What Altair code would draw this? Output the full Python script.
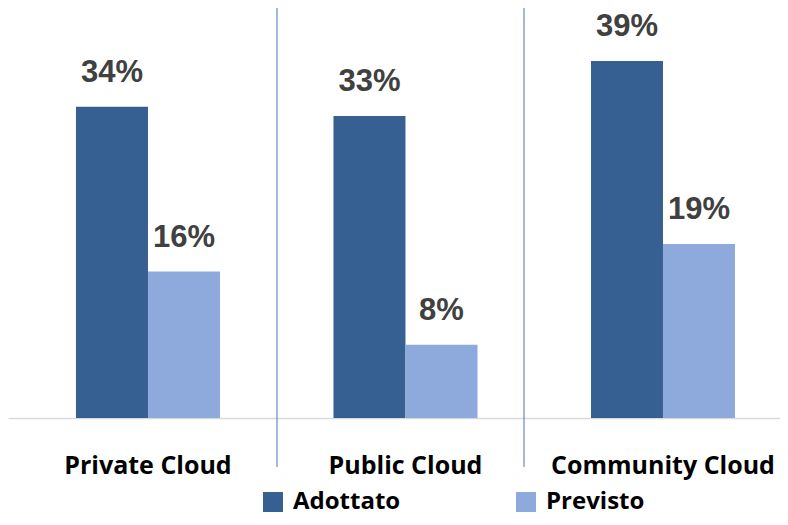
import altair as alt
import pandas as pd

categories = ["Private Cloud", "Public Cloud", "Community Cloud"]
series = ["Adottato", "Previsto"]
adottato = [34, 33, 39]
previsto = [16, 8, 19]
colors = ["#366092", "#8EA9DB"]

rows = []
for c, a, p in zip(categories, adottato, previsto):
    rows.append({"Categoria": c, "Serie": "Adottato", "Valore": a, "Etichetta": f"{a}%"})
    rows.append({"Categoria": c, "Serie": "Previsto", "Valore": p, "Etichetta": f"{p}%"})
df = pd.DataFrame(rows)

x_enc = alt.X(
    "Categoria:N",
    sort=categories,
    scale=alt.Scale(paddingInner=0.4, paddingOuter=0.199, align=0.612),
    axis=alt.Axis(
        title=None,
        labelAngle=0,
        labelFont="Open Sans",
        labelFontWeight="bold",
        labelFontSize=25,
        labelColor="#000000",
        labelBaseline="middle",
        labelPadding=47,
        labelLimit=0,
        ticks=False,
        tickSize=0,
        domainColor="#d9d9d9",
        domainWidth=1.5,
        grid=False,
    ),
)
xoff_enc = alt.XOffset(
    "Serie:N", sort=series, scale=alt.Scale(paddingInner=0, paddingOuter=0.0729)
)
y_enc = alt.Y(
    "Valore:Q", scale=alt.Scale(domain=[0, 44.8], nice=False, zero=True), axis=None
)

base = alt.Chart(df)

bars = base.mark_bar().encode(
    x=x_enc,
    xOffset=xoff_enc,
    y=y_enc,
    color=alt.Color(
        "Serie:N",
        sort=series,
        scale=alt.Scale(domain=series, range=colors),
        legend=alt.Legend(
            title=None,
            orient="none",
            legendX=253,
            legendY=482,
            direction="horizontal",
            columns=2,
            columnPadding=113,
            symbolType="square",
            symbolSize=400,
            symbolStrokeWidth=0,
            labelFont="Open Sans",
            labelFontWeight="bold",
            labelFontSize=24,
            labelColor="#000000",
            labelOffset=8,
            padding=0,
        ),
    ),
)

labels = base.mark_text(
    font="Liberation Sans",
    fontWeight="bold",
    fontSize=31,
    color="#404040",
    baseline="alphabetic",
    dy=-25,
).encode(x=x_enc, xOffset=xoff_enc, y=y_enc, text="Etichetta:N")

one = alt.Data(values=[{"k": 1}])
sep1 = alt.Chart(one).mark_rule(color="#4472C4", strokeWidth=1).encode(
    x=alt.value(269), y=alt.value(0), y2=alt.value(459)
)
sep2 = alt.Chart(one).mark_rule(color="#4472C4", strokeWidth=1).encode(
    x=alt.value(516), y=alt.value(0), y2=alt.value(459)
)

chart = (
    alt.layer(bars, labels, sep1, sep2)
    .properties(
        width=772,
        height=410,
        autosize=alt.AutoSizeParams(type="none"),
        padding={"left": 0, "top": 0, "right": 0, "bottom": 99},
        background="white",
    )
    .configure_view(stroke=None)
)

chart.save("out.html", embed_options={"renderer": "svg", "actions": False})
